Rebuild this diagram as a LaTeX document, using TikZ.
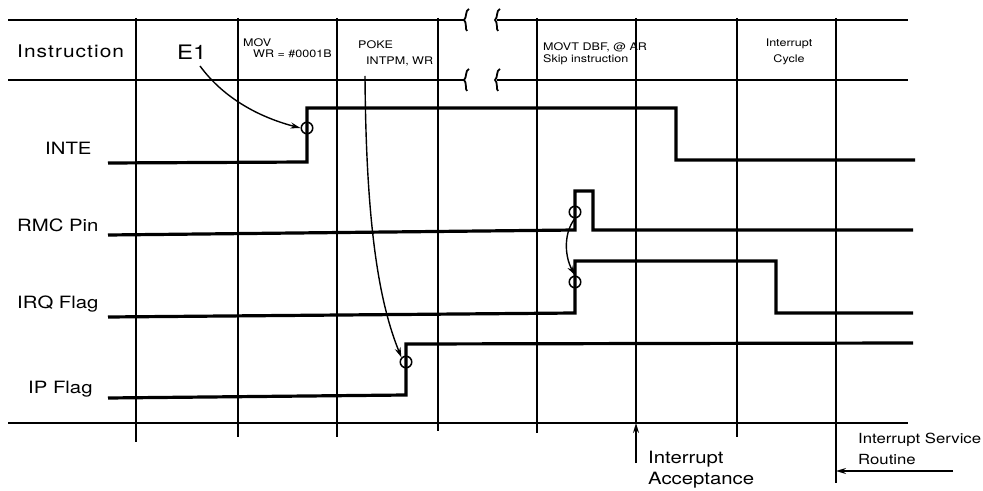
\documentclass[tikz,border=0pt]{standalone}
\usepackage{fontspec}
\setmainfont[FakeStretch=1.2]{TeX Gyre Heros}
\usetikzlibrary{arrows.meta}
\begin{document}
\begin{tikzpicture}[x=1bp,y=-1bp,
  grid/.style={line width=1.5bp},
  frame/.style={line width=1.7bp},
  sig/.style={line width=3.2bp,line join=miter},
  ring/.style={circle,draw,line width=1.5bp,minimum size=11.5bp,inner sep=0},
  lbl/.style={inner sep=0,anchor=base west,font=\fontsize{17}{20}\selectfont},
  hdr/.style={inner sep=0,anchor=base west,font=\fontsize{10.5}{12}\selectfont},
  hdrc/.style={inner sep=0,anchor=base,font=\fontsize{10.5}{12}\selectfont},
  note/.style={inner sep=0,anchor=base west,font=\fontsize{14}{16}\selectfont},
  tip/.style={-{Stealth[length=10bp,width=6bp]},line width=1.4bp},
  brk/.style={line width=1.8bp}]
\useasboundingbox (0,0) rectangle (983,491);
% frame lines
\draw[frame] (8,20) -- (465,20);
\draw[frame] (497,20) -- (908,20);
\draw[frame] (8,80) -- (465,80);
\draw[frame] (497,80) -- (908,80);
\draw[frame] (8,423) -- (908,423);
% break marks (brace-like)
\foreach \bx in {466,497}{
  \foreach \by in {20,80}{
    \draw[brk] (\bx+3,\by-11) .. controls (\bx-1,\by-10) and (\bx+1,\by-2) .. (\bx-2,\by)
      .. controls (\bx+1,\by+2) and (\bx-1,\by+10) .. (\bx+1,\by+11);
  }
}
% vertical grid lines
\draw[grid] (136,18) -- (136,442);
\draw[grid] (238,18) -- (238,437);
\draw[grid] (337,18) -- (337,437);
\draw[grid] (438,18) -- (438,431);
\draw[grid] (537,18) -- (537,433);
\draw[grid] (636,18) -- (636,423);
\draw[grid] (737,18) -- (737,437);
\draw[grid] (836,18) -- (836,483);
% header texts
\node[inner sep=0,anchor=base west,font=\fontsize{17.5}{20}\selectfont] (instr) at (17,58) {\addfontfeatures{LetterSpace=6}Instruction};
\node[inner sep=0,anchor=base west,font=\fontsize{20}{22}\selectfont] (e1) at (177,60) {E1};
\node[hdr] (mov) at (243,47) {MOV};
\node[hdr] (movb) at (253,58) {WR = \#0001B};
\node[hdr] (poke) at (358,49) {POKE};
\node[hdr] (pokeb) at (366,65) {INTPM, WR};
\node[hdr] (movt) at (543,51) {MOVT DBF, @ AR};
\node[hdr] (skip) at (543,63) {Skip instruction};
\node[hdrc] (ic1) at (789,47) {Interrupt};
\node[hdrc] (ic2) at (789,63) {Cycle};
% signal labels
\node[lbl] (inte) at (45,155) {INTE};
\node[lbl] (rmc) at (17,232) {RMC Pin};
\node[lbl] (irq) at (17,309) {IRQ Flag};
\node[lbl] (ip) at (28,393) {IP Flag};
% signals
\draw[sig] (108,163) -- (307,162) -- (307,108) -- (676,108) -- (676,160) -- (915,160);
\draw[sig] (108,235) -- (575,230) -- (575,191) -- (593,191) -- (593,230) -- (913,230);
\draw[sig] (108,317) -- (575,313) -- (575,261) -- (776,261) -- (776,313) -- (913,313);
\draw[sig] (108,398) -- (406,395) -- (406,344) -- (913,343);
% rings
\node[ring] (c1) at (307,128) {};
\node[ring] (c2) at (575,212) {};
\node[ring] (c3) at (575,282) {};
\node[ring] (c4) at (406,362) {};
% curved arrows
\coordinate (e1s) at (200,66);
\coordinate (pks) at (365,76);
\draw[tip] (e1s) .. controls (225,100) and (262,118) .. (c1.west);
\draw[tip] (pks) .. controls (366,220) and (378,300) .. (c4.north west);
\draw[tip] (c2.south) .. controls (564,232) and (564,255) .. (c3.north);
% bottom labels and arrows
\coordinate (accs) at (636,463);
\coordinate (acct) at (636,423);
\draw[tip] (accs) -- (acct);
\node[lbl] (acc1) at (648,463) {Interrupt};
\node[lbl] (acc2) at (648,484) {Acceptance};
\coordinate (isrs) at (953,471);
\coordinate (isrt) at (836,471);
\draw[tip] (isrs) -- (isrt);
\node[note] (isr1) at (858,443) {Interrupt Service};
\node[note] (isr2) at (858,464) {Routine};
\end{tikzpicture}
\end{document}
